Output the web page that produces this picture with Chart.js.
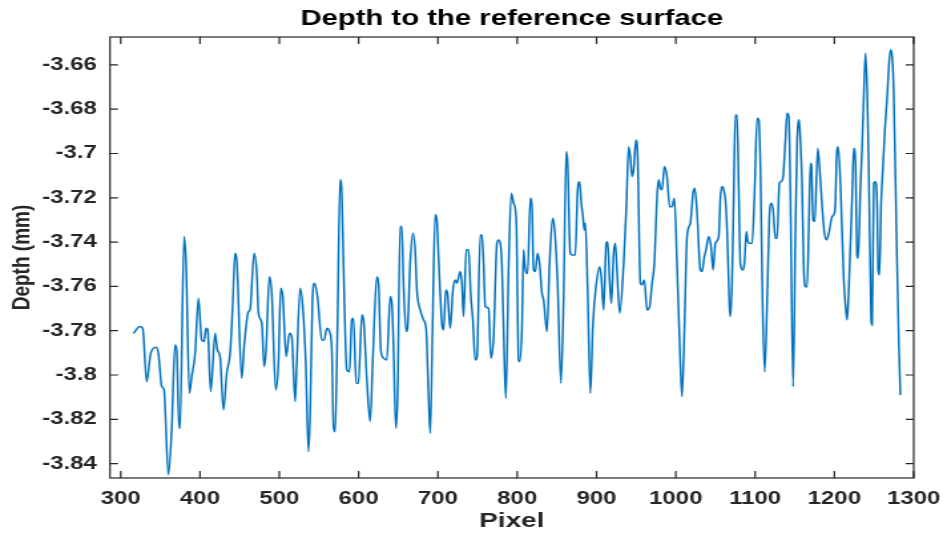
<!DOCTYPE html>
<html>
<head>
<meta charset="utf-8">
<script src="https://cdn.jsdelivr.net/npm/chart.js@4/dist/chart.umd.min.js"></script>
<style>
  body { margin: 0; background: #fff; overflow: hidden; }
  /* the original figure is stretched sideways, so stretch the whole canvas the same way */
  #wrap { width: 709px; height: 537px; transform: scaleX(1.33); transform-origin: 0 0; }
</style>
</head>
<body>
<div id="wrap"><canvas id="chart" width="709" height="537"></canvas></div>
<script>
const pixel = [
  316.0, 324.4, 327.7, 332.8, 337.8, 344.5, 347.5, 351.7, 354.6, 360.1, 364.3, 368.5, 370.6, 373.6, 374.8,
  379.9, 382.4, 386.6, 389.5, 393.8, 398.0, 402.2, 405.1, 407.6, 409.7, 413.5, 419.0, 421.9, 425.3, 429.5,
  433.7, 437.9, 441.3, 444.2, 446.3, 452.6, 455.6, 461.0, 463.1, 468.2, 471.6, 473.7, 477.9, 480.8, 483.3,
  487.5, 490.5, 495.5, 498.9, 501.8, 504.4, 508.6, 512.8, 515.7, 519.9, 522.0, 526.2, 529.6, 533.4, 536.8,
  538.9, 541.8, 544.3, 548.1, 553.6, 556.5, 559.9, 563.3, 566.2, 568.3, 570.4, 573.3, 576.7, 578.8, 580.9,
  585.1, 588.5, 591.4, 593.5, 596.9, 599.8, 604.1, 606.2, 610.4, 614.6, 617.9, 623.0, 625.1, 628.0, 631.4,
  635.6, 639.8, 641.9, 644.0, 646.9, 649.1, 652.4, 654.5, 656.6, 660.0, 661.7, 665.0, 668.4, 671.3, 673.5,
  677.7, 681.9, 685.2, 688.2, 690.3, 693.2, 696.6, 698.7, 700.8, 705.0, 707.1, 710.0, 712.1, 715.5, 718.9,
  721.8, 723.9, 728.1, 730.2, 732.3, 735.7, 738.6, 741.6, 744.1, 747.0, 749.2, 753.4, 755.5, 757.6, 759.7,
  763.9, 766.8, 770.2, 774.4, 776.5, 780.7, 783.6, 785.7, 789.1, 792.5, 795.4, 798.8, 801.7, 803.0, 805.9,
  808.0, 809.3, 811.4, 813.1, 816.5, 818.6, 820.7, 822.8, 825.7, 828.2, 831.2, 833.3, 837.5, 840.8, 844.6,
  847.2, 850.9, 855.1, 858.5, 861.9, 863.6, 866.9, 869.0, 873.2, 876.2, 878.7, 880.8, 882.9, 884.6, 885.9,
  888.8, 892.2, 895.5, 899.3, 903.9, 906.0, 909.0, 912.3, 914.0, 916.5, 918.7, 921.6, 923.7, 925.8, 929.2,
  934.2, 937.6, 940.5, 942.6, 944.7, 946.8, 949.8, 951.9, 955.3, 957.4, 960.3, 963.7, 967.0, 970.0, 972.9,
  976.3, 978.4, 980.5, 982.6, 985.5, 988.9, 992.3, 995.2, 998.2, 1001.5, 1005.7, 1007.8, 1010.8, 1014.1, 1018.3,
  1021.7, 1023.8, 1026.8, 1031.0, 1033.1, 1036.0, 1038.1, 1041.5, 1044.4, 1047.0, 1049.9, 1054.1, 1056.2, 1058.3, 1060.4,
  1062.5, 1064.6, 1067.6, 1068.8, 1070.9, 1073.0, 1075.1, 1077.2, 1079.3, 1081.4, 1084.4, 1086.5, 1089.0, 1090.7, 1092.8,
  1096.2, 1099.1, 1102.5, 1104.6, 1106.7, 1109.6, 1112.1, 1115.1, 1118.0, 1120.5, 1122.7, 1125.6, 1127.7, 1130.6, 1132.7,
  1135.3, 1138.2, 1140.3, 1142.4, 1144.5, 1147.9, 1150.8, 1152.9, 1155.5, 1157.1, 1159.2, 1161.3, 1163.5, 1165.6, 1167.7,
  1169.8, 1171.0, 1173.1, 1175.2, 1179.0, 1181.5, 1184.5, 1187.4, 1190.0, 1192.9, 1197.1, 1199.2, 1201.3, 1202.6, 1204.7,
  1207.6, 1211.8, 1214.8, 1216.0, 1218.1, 1222.3, 1224.4, 1226.5, 1228.6, 1229.9, 1232.8, 1234.9, 1237.1, 1239.2, 1241.3,
  1243.4, 1246.3, 1247.6, 1249.7, 1251.8, 1253.9, 1255.1, 1256.8, 1258.9, 1261.0, 1263.6, 1266.5, 1268.6, 1270.7, 1272.8,
  1274.9, 1278.3, 1281.2, 1283.3
];

const depth = [
  -3.7812, -3.7781, -3.7789, -3.8030, -3.7902, -3.7875, -3.7902, -3.8052, -3.8067, -3.8451, -3.8248, -3.7864, -3.7887, -3.8240, -3.8240,
  -3.7375, -3.7496, -3.8082, -3.8007, -3.7902, -3.7654, -3.7842, -3.7849, -3.7789, -3.7797, -3.8075, -3.7812, -3.7887, -3.7917, -3.8158,
  -3.7992, -3.7902, -3.7676, -3.7450, -3.7480, -3.8015, -3.7872, -3.7714, -3.7706, -3.7450, -3.7541, -3.7721, -3.7766, -3.7962, -3.7887,
  -3.7556, -3.7631, -3.8067, -3.7947, -3.7608, -3.7646, -3.7917, -3.7812, -3.7827, -3.8120, -3.7947, -3.7608, -3.7691, -3.7947, -3.8346,
  -3.8173, -3.7661, -3.7586, -3.7646, -3.7842, -3.7842, -3.7789, -3.7804, -3.7887, -3.8233, -3.8256, -3.7797, -3.7119, -3.7179, -3.7496,
  -3.7977, -3.7985, -3.7751, -3.7744, -3.8037, -3.8037, -3.7729, -3.7751, -3.8022, -3.8210, -3.7932, -3.7556, -3.7586, -3.7887, -3.7924,
  -3.7932, -3.7646, -3.7676, -3.7872, -3.8240, -3.8097, -3.7330, -3.7330, -3.7586, -3.7804, -3.7789, -3.7496, -3.7360, -3.7435, -3.7616,
  -3.7706, -3.7751, -3.7797, -3.8097, -3.8263, -3.7797, -3.7277, -3.7300, -3.7465, -3.7766, -3.7797, -3.7616, -3.7631, -3.7789, -3.7616,
  -3.7571, -3.7586, -3.7533, -3.7586, -3.7736, -3.7435, -3.7435, -3.7646, -3.7751, -3.7932, -3.7924, -3.7368, -3.7368, -3.7496, -3.7691,
  -3.7699, -3.7924, -3.7827, -3.7405, -3.7390, -3.7496, -3.7902, -3.8105, -3.7526, -3.7179, -3.7224, -3.7300, -3.7932, -3.7940, -3.7797,
  -3.7435, -3.7496, -3.7541, -3.7541, -3.7202, -3.7240, -3.7526, -3.7533, -3.7450, -3.7496, -3.7631, -3.7661, -3.7804, -3.7496, -3.7292,
  -3.7345, -3.7586, -3.8037, -3.7646, -3.6991, -3.7044, -3.7450, -3.7458, -3.7458, -3.7164, -3.7127, -3.7225, -3.7285, -3.7345, -3.7315,
  -3.7616, -3.8082, -3.7766, -3.7601, -3.7511, -3.7556, -3.7706, -3.7405, -3.7398, -3.7571, -3.7676, -3.7450, -3.7405, -3.7526, -3.7721,
  -3.7496, -3.7240, -3.6969, -3.7014, -3.7104, -3.7074, -3.6939, -3.7014, -3.7586, -3.7593, -3.7571, -3.7706, -3.7691, -3.7586, -3.7496,
  -3.7195, -3.7119, -3.7157, -3.7164, -3.7059, -3.7104, -3.7240, -3.7240, -3.7202, -3.7496, -3.7947, -3.8097, -3.7797, -3.7375, -3.7315,
  -3.7179, -3.7157, -3.7270, -3.7526, -3.7533, -3.7465, -3.7435, -3.7375, -3.7420, -3.7526, -3.7405, -3.7375, -3.7195, -3.7149, -3.7164,
  -3.7210, -3.7345, -3.7691, -3.7736, -3.7586, -3.7195, -3.6826, -3.6826, -3.7149, -3.7496, -3.7526, -3.7496, -3.7352, -3.7398, -3.7405,
  -3.7405, -3.7195, -3.6841, -3.6848, -3.7074, -3.7721, -3.7985, -3.7676, -3.7285, -3.7225, -3.7255, -3.7383, -3.7383, -3.7134, -3.7127,
  -3.7104, -3.6939, -3.6818, -3.6833, -3.7195, -3.8052, -3.7345, -3.6954, -3.6848, -3.6939, -3.7134, -3.7511, -3.7601, -3.7601, -3.7330,
  -3.7044, -3.7052, -3.7300, -3.7307, -3.6976, -3.7074, -3.7240, -3.7360, -3.7390, -3.7360, -3.7285, -3.7277, -3.7225, -3.7029, -3.6969,
  -3.7134, -3.7571, -3.7721, -3.7751, -3.7616, -3.7195, -3.6976, -3.7044, -3.7465, -3.7473, -3.7149, -3.6969, -3.6728, -3.6547, -3.6713,
  -3.7074, -3.7751, -3.7774, -3.7134, -3.7127, -3.7240, -3.7526, -3.7548, -3.7225, -3.7074, -3.6894, -3.6743, -3.6608, -3.6532, -3.6562,
  -3.6743, -3.7375, -3.7857, -3.8090
];

const xTicks = [300, 400, 500, 600, 700, 800, 900, 1000, 1100, 1200, 1300];
const yTicks = [-3.84, -3.82, -3.8, -3.78, -3.76, -3.74, -3.72, -3.7, -3.68, -3.66];

const font = "'Liberation Sans', Arial, Helvetica, sans-serif";
const axisColor = '#262626';

// matlab style box with ticks pointing inwards on all four sides
const boxPlugin = {
  id: 'box',
  afterDraw(chart) {
    const ctx = chart.ctx;
    const a = chart.chartArea;
    const x = chart.scales.x, y = chart.scales.y;
    ctx.save();
    ctx.strokeStyle = axisColor;
    ctx.lineWidth = 1.2;
    ctx.beginPath();
    x.ticks.forEach(t => {
      const px = x.getPixelForValue(t.value);
      ctx.moveTo(px, a.bottom); ctx.lineTo(px, a.bottom - 7);
      ctx.moveTo(px, a.top); ctx.lineTo(px, a.top + 7);
    });
    y.ticks.forEach(t => {
      const py = y.getPixelForValue(t.value);
      ctx.moveTo(a.left, py); ctx.lineTo(a.left + 6, py);
      ctx.moveTo(a.right, py); ctx.lineTo(a.right - 6, py);
    });
    ctx.stroke();
    ctx.strokeRect(a.left, a.top, a.right - a.left, a.bottom - a.top);
    ctx.restore();
  }
};

function chartMake() {
  const ctx = document.getElementById('chart');
  const points = pixel.map((p, i) => ({ x: p, y: depth[i] }));

  new Chart(ctx, {
    type: 'line',
    data: {
      datasets: [{
        label: 'Depth',
        data: points,
        borderColor: '#0072BD',
        borderWidth: 1.5,
        pointRadius: 0,
        cubicInterpolationMode: 'monotone',
        fill: false
      }]
    },
    options: {
      responsive: false,
      animation: false,
      devicePixelRatio: 1,
      layout: { padding: { left: 0, right: 22, top: 0, bottom: 0 } },
      plugins: {
        legend: { display: false },
        tooltip: { enabled: false },
        title: {
          display: true,
          fullSize: false,   // centre it over the plot box, like matlab
          text: 'Depth to the reference surface',
          color: '#000',
          font: { family: font, size: 22, weight: 'bold' },
          padding: { top: 6, bottom: 4.6 }
        }
      },
      scales: {
        x: {
          type: 'linear',
          min: 286.5,
          max: 1300,
          afterBuildTicks: s => { s.ticks = xTicks.map(v => ({ value: v })); },
          afterFit: s => { s.height = 59; s.paddingLeft = 0; s.paddingRight = 0; },
          grid: { display: false, drawTicks: false },
          border: { display: false },
          ticks: {
            color: axisColor,
            padding: 10,
            maxRotation: 0,
            autoSkip: false,
            font: { family: font, size: 18, weight: 'bold' },
            callback: v => String(v)
          },
          title: {
            display: true,
            text: 'Pixel',
            color: axisColor,
            font: { family: font, size: 21, weight: 'bold' },
            padding: { top: 0, bottom: 3 }
          }
        },
        y: {
          type: 'linear',
          min: -3.8465,
          max: -3.6474,
          afterBuildTicks: s => { s.ticks = yTicks.map(v => ({ value: v })); },
          afterFit: s => { s.width = 82.7; },
          grid: { display: false, drawTicks: false },
          border: { display: false },
          ticks: {
            color: axisColor,
            padding: 10,
            autoSkip: false,
            font: { family: font, size: 18, weight: 'bold' },
            callback: v => String(+v.toFixed(2))
          },
          title: {
            display: true,
            text: 'Depth (mm)',
            color: axisColor,
            font: { family: font, size: 19, weight: 'bold' },
            padding: { top: 5, bottom: 0 }
          }
        }
      }
    },
    plugins: [boxPlugin]
  });
}

chartMake();
</script>
</body>
</html>
